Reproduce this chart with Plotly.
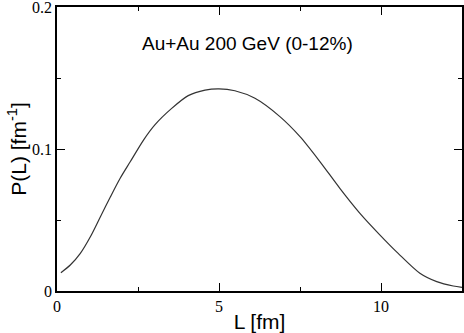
import plotly.graph_objects as go

# values
L = [0.12, 0.41, 0.72, 1.03, 1.34, 1.65, 1.95, 2.26, 2.67, 3.02, 3.54, 4.05,
     4.57, 5.0, 5.49, 6.11, 6.88, 7.5, 8.12, 8.73, 9.35, 9.97, 10.53, 11.2,
     11.72, 12.23, 12.5]
P = [0.0129, 0.0183, 0.0265, 0.0382, 0.0523, 0.0664, 0.0794, 0.091, 0.1063,
     0.117, 0.1286, 0.1376, 0.1415, 0.1424, 0.141, 0.1357, 0.1228, 0.1087,
     0.091, 0.0723, 0.0547, 0.0394, 0.0265, 0.0125, 0.0066, 0.0035, 0.0026]

label = "Au+Au 200 GeV (0-12%)"

fig = go.Figure(go.Scatter(x=L, y=P, mode="lines",
                           line=dict(color="#333333", width=1.2, shape="spline", smoothing=0.8),
                           showlegend=False))

axis_common = dict(
    showgrid=False, zeroline=False, showline=True, linecolor="black", linewidth=1.5,
    ticks="inside", ticklen=8, tickwidth=1, tickcolor="black", mirror="ticks",
    tickfont=dict(family="Liberation Serif", size=16, color="black"),
    automargin=False, ticklabeloverflow="allow",
)

fig.update_xaxes(range=[0, 12.5], dtick=5, tick0=0, ticklabelstandoff=0,
                 minor=dict(dtick=2.5, ticklen=4, ticks="inside", tickcolor="black"),
                 title=dict(text="L [fm]", font=dict(family="Liberation Sans", size=21, color="black"), standoff=0),
                 **axis_common)
fig.update_yaxes(range=[0, 0.2], dtick=0.1, tick0=0, ticklabelstandoff=0,
                 minor=dict(dtick=0.05, ticklen=4, ticks="inside", tickcolor="black"),
                 title=dict(text="P(L) [fm<sup>-1</sup>]", font=dict(family="Liberation Sans", size=21, color="black"), standoff=0),
                 **axis_common)

fig.add_annotation(text=label, x=0.47, y=0.873, xref="paper", yref="paper", showarrow=False,
                   xanchor="center", yanchor="middle",
                   font=dict(family="Liberation Sans", size=19, color="black"))

fig.update_layout(width=464, height=333, margin=dict(l=57, r=2, t=7, b=42),
                  paper_bgcolor="white", plot_bgcolor="white")

# page body has a default 8px margin; drop it so the figure fills the window
fig.write_html("out.html", config={"displayModeBar": False},
               post_script="document.body.style.margin='0px';")
